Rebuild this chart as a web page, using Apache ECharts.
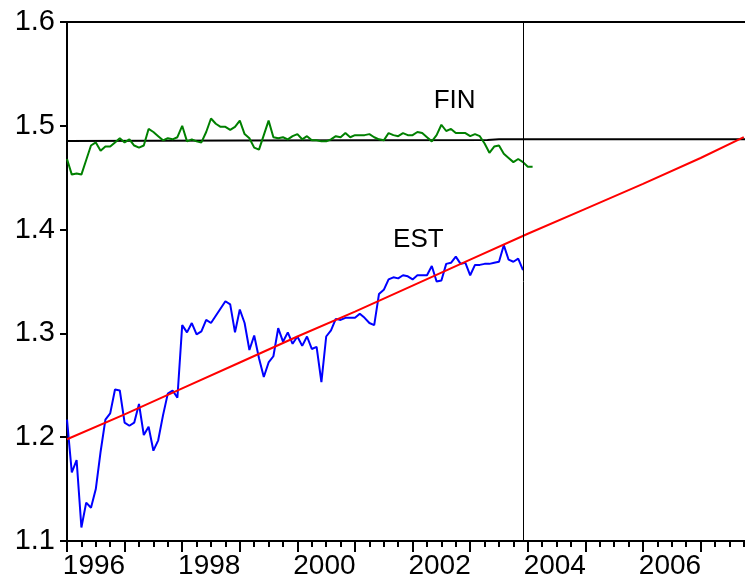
<!DOCTYPE html>
<html>
<head>
<meta charset="utf-8">
<script src="https://cdn.jsdelivr.net/npm/echarts@6/dist/echarts.min.js"></script>
<style>
html,body{margin:0;padding:0;background:#fff;}
#chart{width:745px;height:584px;}
</style>
</head>
<body>
<div id="chart"></div>
<script>
// Monthly data starting 1996M01
const startYear = 1996;
const est = [
1.217,1.166,1.178,1.113,1.137,1.132,1.150,1.186,1.217,1.223,1.246,1.245,
1.214,1.211,1.214,1.232,1.202,1.210,1.187,1.197,1.221,1.242,1.245,1.238,
1.308,1.301,1.310,1.299,1.302,1.313,1.310,1.317,1.324,1.331,1.328,1.301,
1.323,1.310,1.284,1.298,1.276,1.258,1.272,1.278,1.305,1.292,1.301,1.290,
1.297,1.288,1.297,1.285,1.287,1.253,1.297,1.303,1.314,1.313,1.315,1.315,
1.315,1.319,1.315,1.310,1.308,1.338,1.342,1.352,1.354,1.353,1.356,1.355,
1.352,1.356,1.356,1.356,1.365,1.350,1.351,1.367,1.368,1.374,1.367,1.368,
1.356,1.366,1.366,1.367,1.367,1.368,1.369,1.385,1.371,1.369,1.372,1.361
];
const fin = [
1.468,1.453,1.454,1.453,1.467,1.481,1.484,1.476,1.480,1.480,1.484,1.488,
1.484,1.487,1.481,1.479,1.481,1.497,1.494,1.490,1.486,1.488,1.487,1.489,
1.500,1.485,1.487,1.485,1.484,1.494,1.507,1.502,1.499,1.499,1.496,1.499,
1.505,1.492,1.488,1.479,1.477,1.491,1.505,1.489,1.488,1.489,1.487,1.490,
1.492,1.487,1.490,1.486,1.486,1.485,1.485,1.487,1.490,1.489,1.493,1.489,
1.491,1.491,1.491,1.492,1.489,1.487,1.486,1.493,1.491,1.490,1.493,1.491,
1.491,1.494,1.493,1.489,1.485,1.491,1.501,1.495,1.497,1.493,1.493,1.493,
1.490,1.492,1.490,1.483,1.474,1.480,1.481,1.473,1.469,1.465,1.468,1.465,
1.4605,1.4605
];
// Trend of EST (red)
const estTrendYears = [1996,1997,1998,1999,2000,2001,2002,2003,2004,2005,2006,2007,2007.75];
const estTrend = [1.198,1.222,1.247,1.272,1.297,1.321,1.346,1.371,1.396,1.420,1.444,1.469,1.489];
// Trend of FIN (black)
const finTrendYears = [1996,1999,2003.3,2003.5,2008];
const finTrend = [1.4853,1.4858,1.4863,1.4870,1.4870];
// Vertical marker: 2003M12
const markerDate = 2003 + 11/12;
const seriesLabels = ['FIN','EST'];
const labelPos = [[2002.73,1.524],[2002.1,1.390]];

const toPairs = (arr) => arr.map((v,i)=>[startYear + i/12, v]);
const zip = (xs, ys) => xs.map((x,i)=>[x, ys[i]]);

const FONT = "'Liberation Sans', Arial, sans-serif";
const chart = echarts.init(document.getElementById('chart'), null, {renderer:'canvas'});

function textPoint(name, pos){
  return {
    symbol:'rect', symbolSize:1, itemStyle:{color:'rgba(0,0,0,0)'},
    label:{show:true, position:'inside', formatter:name, color:'#000', fontSize:26, fontFamily:FONT},
    data:[{coord:pos, value:name}]
  };
}

chart.setOption({
  animation:false,
  backgroundColor:'#fff',
  grid:{left:67, top:22, width:691.2, height:519, containLabel:false, outerBoundsMode:'none'},
  xAxis:[
    {
      type:'value', min:1996, max:2008, interval:1, position:'bottom',
      axisLine:{show:true, onZero:false, lineStyle:{color:'#000', width:2}},
      axisTick:{show:true, length:11, lineStyle:{color:'#000', width:2}},
      minorTick:{show:true, splitNumber:4, length:6, lineStyle:{color:'#000', width:2}},
      axisLabel:{show:true, margin:11, color:'#000', showMinLabel:true, showMaxLabel:false,
        formatter:(v)=> (Math.round(v)%2===0) ? '{a|' + Math.round(v) + '}' : '',
        rich:{a:{fontSize:28, fontFamily:FONT, color:'#000', padding:[0,0,0,54]}}},
      splitLine:{show:false}, minorSplitLine:{show:false}
    },
    {
      type:'value', min:1996, max:2008, position:'top',
      axisLine:{show:true, onZero:false, lineStyle:{color:'#000', width:2}},
      axisTick:{show:false}, axisLabel:{show:false}, splitLine:{show:false}
    }
  ],
  yAxis:[{
    type:'value', min:1.1, max:1.6, interval:0.1,
    axisLine:{show:true, onZero:false, lineStyle:{color:'#000', width:2}},
    axisTick:{show:true, length:7, lineStyle:{color:'#000', width:2}},
    axisLabel:{margin:12, fontSize:29, fontFamily:FONT, color:'#000', formatter:(v)=>v.toFixed(1)},
    splitLine:{show:false}
  }],
  series:[
    {
      name:'FIN trend', type:'line', xAxisIndex:0, yAxisIndex:0,
      data:zip(finTrendYears, finTrend), showSymbol:false, symbol:'none',
      lineStyle:{color:'#000', width:2}, z:2
    },
    {
      name:'FIN', type:'line', xAxisIndex:0, yAxisIndex:0,
      data:toPairs(fin), showSymbol:false, symbol:'none',
      lineStyle:{color:'#008000', width:2}, z:3,
      markLine:{symbol:'none', silent:true, label:{show:false},
        lineStyle:{color:'#000', width:1, type:'solid'},
        data:[{xAxis:markerDate}]},
      markPoint: textPoint(seriesLabels[0], labelPos[0])
    },
    {
      name:'EST', type:'line', xAxisIndex:0, yAxisIndex:0,
      data:toPairs(est), showSymbol:false, symbol:'none',
      lineStyle:{color:'#0000FF', width:2}, z:3,
      markPoint: textPoint(seriesLabels[1], labelPos[1])
    },
    {
      name:'EST trend', type:'line', xAxisIndex:0, yAxisIndex:0,
      data:zip(estTrendYears, estTrend), showSymbol:false, symbol:'none',
      lineStyle:{color:'#FF0000', width:2}, z:4
    }
  ]
});
</script>
</body>
</html>
